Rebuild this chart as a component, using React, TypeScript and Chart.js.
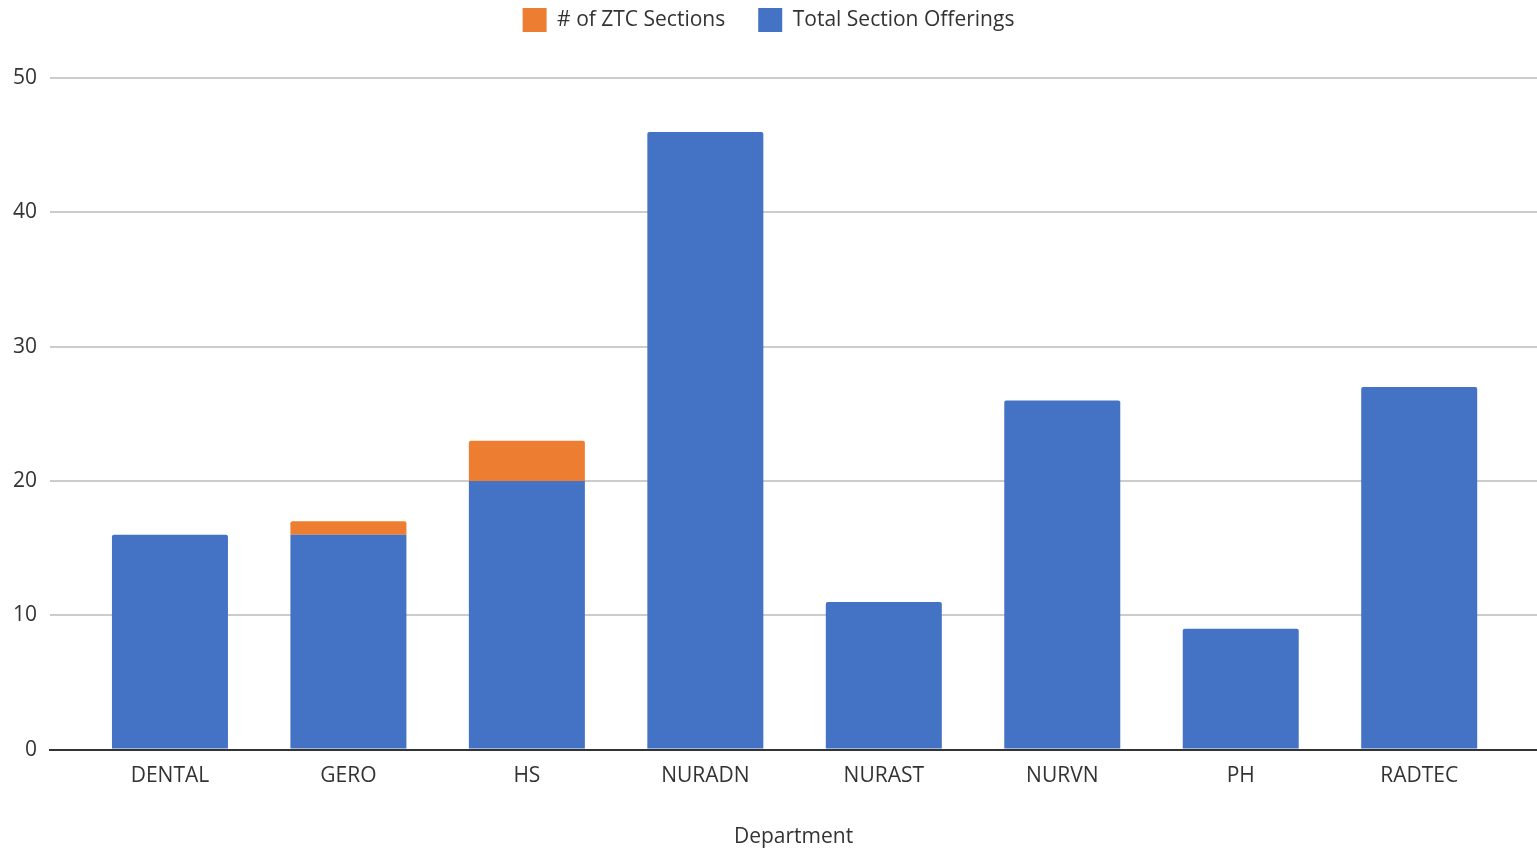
import React, { useEffect, useRef } from "react";
import { Chart, registerables } from "chart.js";

Chart.register(...registerables);

const categories = ["DENTAL", "GERO", "HS", "NURADN", "NURAST", "NURVN", "PH", "RADTEC"];
const totalOfferings = [16, 16, 20, 46, 11, 26, 9, 27];
const ztcSections = [0, 1, 3, 0, 0, 0, 0, 0];
const yTicks = [0, 10, 20, 30, 40, 50];

const FONT = "'Open Sans', 'Noto Sans', sans-serif";
const TEXT = "#333333";
const FS = 21;

export default function App() {
  const ref = useRef<HTMLCanvasElement | null>(null);

  useEffect(() => {
    if (!ref.current) return;
    const chart = new Chart(ref.current, {
      type: "bar",
      data: {
        datasets: [
          {
            label: "Total Section Offerings",
            data: categories.map((_, i) => ({ x: i, y: totalOfferings[i] })),
            backgroundColor: "#4472C4",
            borderRadius: 2,
            borderSkipped: "start",
            categoryPercentage: 0.65,
            barPercentage: 1,
          },
          {
            label: "# of ZTC Sections",
            data: categories.map((_, i) => ({ x: i, y: ztcSections[i] })),
            backgroundColor: "#ED7D31",
            borderRadius: 2,
            borderSkipped: "start",
            categoryPercentage: 0.65,
            barPercentage: 1,
          },
        ],
      },
      options: {
        animation: false,
        responsive: true,
        maintainAspectRatio: false,
        layout: { padding: { left: 0, right: 0, top: -25, bottom: -1 } },
        plugins: {
          tooltip: { enabled: false },
          title: {
            display: true,
            text: "",
            weight: 500,
            font: { size: 1 },
            padding: { top: 0, bottom: 35 },
          } as any,
          legend: {
            position: "top",
            reverse: true,
            labels: {
              boxWidth: 24,
              boxHeight: 24,
              padding: 33,
              color: TEXT,
              font: { family: FONT, size: FS },
            },
          },
        },
        scales: {
          x: {
            type: "linear",
            stacked: true,
            offset: false,
            min: -0.672,
            max: 7.66,
            afterBuildTicks: (scale: any) => {
              scale.ticks = categories.map((_, i) => ({ value: i }));
            },
            ticks: {
              autoSkip: false,
              maxRotation: 0,
              padding: 14,
              color: TEXT,
              font: { family: FONT, size: FS },
              callback: (v: any) => categories[v as number] ?? "",
            },
            grid: { display: false, drawTicks: false, offset: false },
            border: { display: true, color: "#333333", width: 2, z: 1 },
            title: {
              display: true,
              text: "Department",
              color: TEXT,
              font: { family: FONT, size: FS },
              padding: { top: 22, bottom: 0 },
            },
          },
          y: {
            stacked: true,
            min: 0,
            max: 50,
            afterBuildTicks: (scale: any) => {
              scale.ticks = yTicks.map((v) => ({ value: v }));
            },
            ticks: {
              padding: 13,
              color: TEXT,
              font: { family: FONT, size: FS },
            },
            grid: { color: "#cccccc", lineWidth: 2, drawTicks: false },
            border: { display: false },
          },
        },
      },
    });
    return () => chart.destroy();
  }, []);

  return (
    <div style={{ position: "fixed", left: 0, top: 0, width: 1537, height: 849, background: "#fff" }}>
      <canvas ref={ref} />
    </div>
  );
}
